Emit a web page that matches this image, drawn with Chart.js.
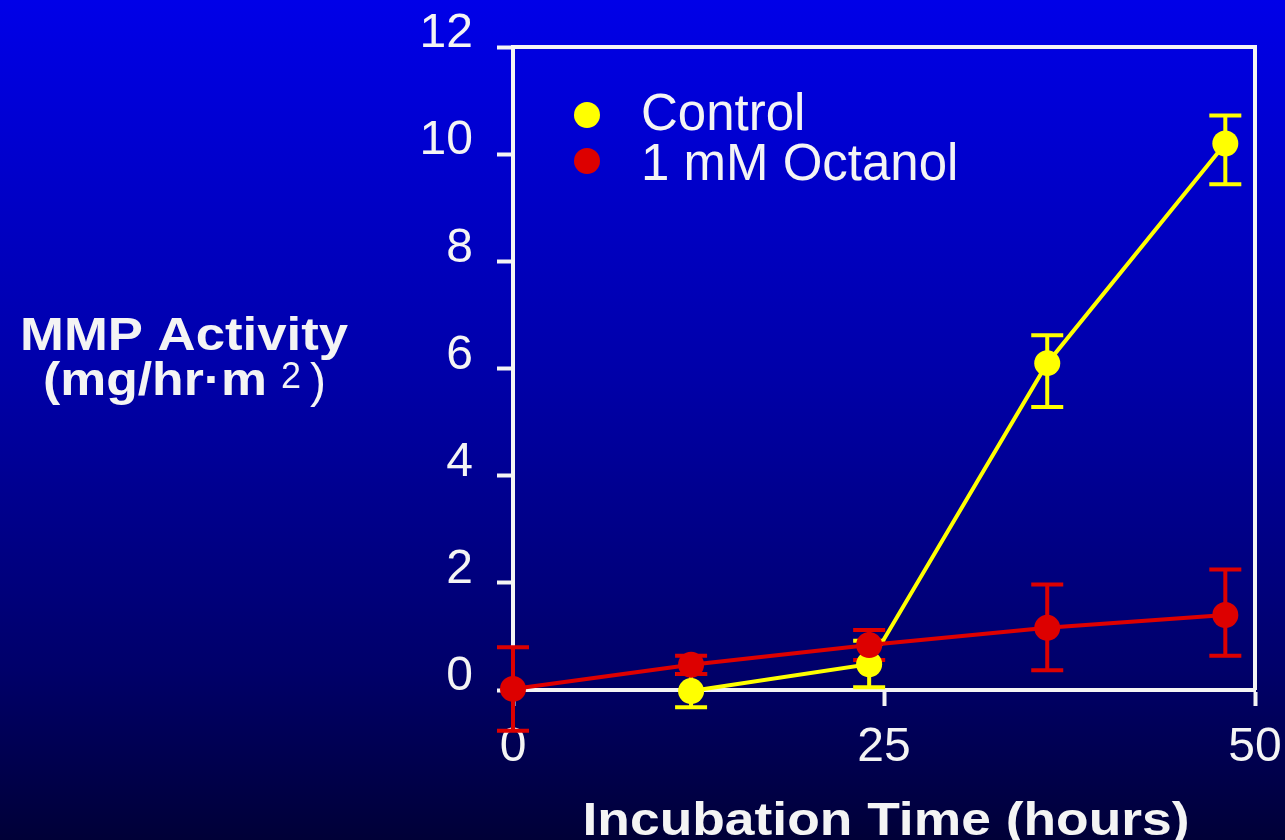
<!DOCTYPE html>
<html>
<head>
<meta charset="utf-8">
<script src="https://cdn.jsdelivr.net/npm/chart.js@4.4.0/dist/chart.umd.min.js"></script>
<style>
  html, body { margin: 0; padding: 0; background: #000050; }
  #wrap { width: 1285px; height: 840px; position: relative; }
</style>
</head>
<body>
<div id="wrap"><canvas id="c" width="1285" height="840"></canvas></div>
<script>
// MMP activity vs incubation time, with error bars
const seriesNames = ['Control', '1 mM Octanol'];

const controlHours = [12, 24, 36, 48];
const controlActivity = [-0.02, 0.48, 6.1, 10.2];
const controlLow = [-0.32, 0.05, 5.28, 9.44];
const controlHigh = [0.3, 0.92, 6.62, 10.72];

const octanolHours = [0, 12, 24, 36, 48];
const octanolActivity = [0.02, 0.47, 0.84, 1.16, 1.4];
const octanolLow = [-0.76, 0.3, 0.56, 0.37, 0.64];
const octanolHigh = [0.8, 0.64, 1.12, 1.97, 2.25];

const xTicks = [0, 25, 50];
const yTicks = [0, 2, 4, 6, 8, 10, 12];

const xTitle = 'Incubation Time (hours)';
const yTitleLine1 = 'MMP Activity';
const yTitleLine2 = '(mg/hr·m';
const yTitleSup = '2';

const YELLOW = '#ffff00';
const RED = '#dd0000';
const WHITE = '#f4f4f4';
const FONT = '"Liberation Sans", Arial, Helvetica, sans-serif';

const toPoints = (xs, ys) => xs.map((v, i) => ({ x: v, y: ys[i] }));

// slide-style vertical gradient behind everything
const background = {
  id: 'background',
  beforeDraw(chart) {
    const { ctx, width, height } = chart;
    const g = ctx.createLinearGradient(0, 0, 0, height);
    g.addColorStop(0, 'rgb(0,0,232)');
    g.addColorStop(0.45, 'rgb(0,0,168)');
    g.addColorStop(0.8, 'rgb(0,0,105)');
    g.addColorStop(1, 'rgb(0,0,55)');
    ctx.save();
    ctx.fillStyle = g;
    ctx.fillRect(0, 0, width, height);
    ctx.restore();
  }
};

// closed frame around the plot plus error bars under the markers
const frameAndErrors = {
  id: 'frameAndErrors',
  beforeDatasetsDraw(chart) {
    const { ctx, chartArea: a, scales: { x, y } } = chart;
    ctx.save();
    ctx.strokeStyle = WHITE;
    ctx.lineWidth = 4;
    ctx.beginPath();
    ctx.moveTo(a.left, a.top);
    ctx.lineTo(a.right, a.top);
    ctx.lineTo(a.right, a.bottom);
    ctx.stroke();
    ctx.restore();

    chart.data.datasets.forEach(ds => {
      ctx.save();
      ctx.strokeStyle = ds.borderColor;
      ctx.lineWidth = 4;
      ds.data.forEach((p, i) => {
        const px = x.getPixelForValue(p.x);
        const lo = y.getPixelForValue(ds.low[i]);
        const hi = y.getPixelForValue(ds.high[i]);
        ctx.beginPath();
        ctx.moveTo(px, lo); ctx.lineTo(px, hi);
        ctx.moveTo(px - 16, lo); ctx.lineTo(px + 16, lo);
        ctx.moveTo(px - 16, hi); ctx.lineTo(px + 16, hi);
        ctx.stroke();
      });
      ctx.restore();
    });
  }
};

function fitText(ctx, text, x, y, width, align) {
  const w = ctx.measureText(text).width;
  ctx.save();
  ctx.translate(x, y);
  ctx.scale(width / w, 1);
  ctx.textAlign = align;
  ctx.fillText(text, 0, 0);
  ctx.restore();
}

// legend inside the plot and the two axis titles
const annotations = {
  id: 'annotations',
  afterDraw(chart) {
    const { ctx } = chart;
    ctx.save();
    ctx.textBaseline = 'alphabetic';

    chart.data.datasets.forEach((ds, i) => {
      const cy = 115 + i * 46;
      ctx.fillStyle = ds.backgroundColor;
      ctx.beginPath();
      ctx.arc(587, cy, 13, 0, Math.PI * 2);
      ctx.fill();
      ctx.fillStyle = WHITE;
      ctx.font = '51px ' + FONT;
      ctx.textAlign = 'left';
      ctx.fillText(ds.label, 641, 130 + i * 50);
    });

    ctx.fillStyle = WHITE;
    ctx.font = 'bold 46px ' + FONT;
    fitText(ctx, yTitleLine1, 184, 350, 328, 'center');
    fitText(ctx, yTitleLine2, 43, 395, 224, 'left');
    ctx.textAlign = 'left';
    ctx.font = '36px ' + FONT;
    ctx.fillText(yTitleSup, 281, 388);
    ctx.font = '48px ' + FONT;
    ctx.fillText(')', 310, 397);

    ctx.font = 'bold 46px ' + FONT;
    fitText(ctx, xTitle, 886, 835, 607, 'center');
    ctx.restore();
  }
};

new Chart(document.getElementById('c'), {
  type: 'line',
  data: {
    datasets: [
      {
        label: seriesNames[0],
        data: toPoints(controlHours, controlActivity),
        low: controlLow,
        high: controlHigh,
        borderColor: YELLOW,
        backgroundColor: YELLOW,
        borderWidth: 4,
        pointRadius: 13,
        pointBorderWidth: 0,
        pointHoverRadius: 13,
        tension: 0,
        clip: false,
        order: 2
      },
      {
        label: seriesNames[1],
        data: toPoints(octanolHours, octanolActivity),
        low: octanolLow,
        high: octanolHigh,
        borderColor: RED,
        backgroundColor: RED,
        borderWidth: 4,
        pointRadius: 13,
        pointBorderWidth: 0,
        pointHoverRadius: 13,
        tension: 0,
        clip: false,
        order: 1
      }
    ]
  },
  options: {
    responsive: false,
    devicePixelRatio: 1,
    animation: false,
    events: [],
    layout: { padding: { top: 47, right: 30, left: 0, bottom: 0 } },
    plugins: { legend: { display: false }, tooltip: { enabled: false } },
    scales: {
      x: {
        type: 'linear',
        min: 0,
        max: 50,
        afterBuildTicks: s => { s.ticks = xTicks.map(v => ({ value: v })); },
        afterFit: s => { s.height = 150; s.paddingLeft = 0; s.paddingRight = 0; },
        border: { color: WHITE, width: 4 },
        grid: { drawOnChartArea: false, drawTicks: true, tickLength: 16, tickColor: WHITE, tickWidth: 4 },
        ticks: { color: WHITE, font: { family: FONT, size: 48 }, padding: 13, maxRotation: 0 }
      },
      y: {
        type: 'linear',
        min: 0,
        max: 12,
        afterBuildTicks: s => { s.ticks = yTicks.map(v => ({ value: v })); },
        afterFit: s => { s.width = 513; s.paddingTop = 0; s.paddingBottom = 0; },
        border: { color: WHITE, width: 4 },
        grid: { drawOnChartArea: false, drawTicks: true, tickLength: 16, tickColor: WHITE, tickWidth: 4 },
        ticks: { color: WHITE, font: { family: FONT, size: 48 }, padding: 24, labelOffset: -13 }
      }
    }
  },
  plugins: [background, frameAndErrors, annotations]
});
</script>
</body>
</html>
